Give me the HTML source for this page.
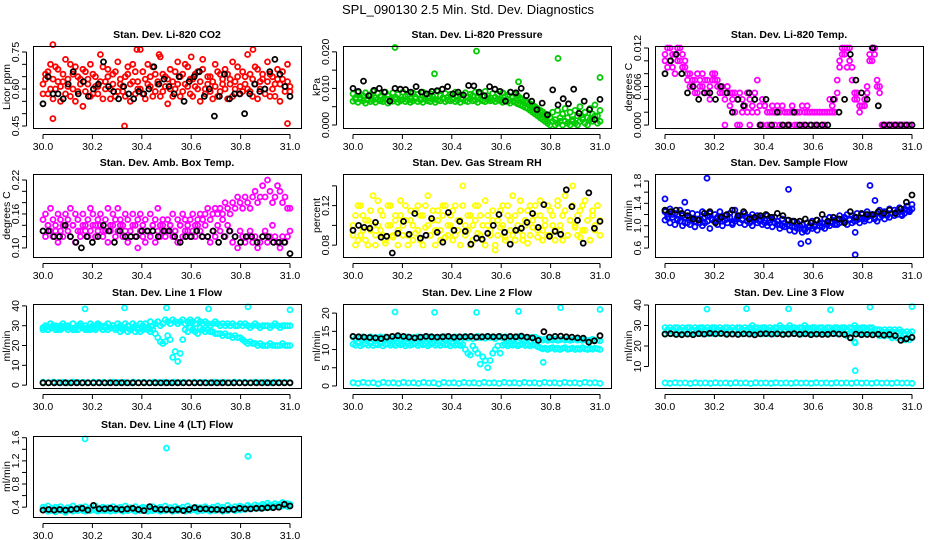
<!DOCTYPE html>
<html><head><meta charset="utf-8"><style>
html,body{margin:0;padding:0;background:#fff;}
svg{display:block;font-family:"Liberation Sans",sans-serif;}
</style></head><body>
<svg id="chart" width="936" height="540" viewBox="0 0 936 540" xmlns="http://www.w3.org/2000/svg">
<text x="468" y="14" font-size="13" text-anchor="middle">SPL_090130  2.5 Min. Std. Dev. Diagnostics</text>
</svg>
<script>
// ---------- data ----------
const xTickVals = [30.0, 30.2, 30.4, 30.6, 30.8, 31.0];
const xTickLabels = ["30.0", "30.2", "30.4", "30.6", "30.8", "31.0"];

const co2Red1 = [0.62,0.66,0.58,0.70,0.64,0.60,0.68,0.55,0.63,0.72,0.61,0.57,0.66,0.69,0.59,0.64,0.53,0.67,0.62,0.70,0.58,0.65,0.61,0.74,0.56,0.63,0.68,0.60,0.66,0.57,0.71,0.62,0.59,0.65,0.69,0.55,0.63,0.67,0.60,0.76,0.58,0.64,0.70,0.61,0.57,0.66,0.62,0.73,0.59,0.65,0.54,0.68,0.63,0.60,0.71,0.57,0.66,0.62,0.69,0.58,0.64,0.61,0.67,0.55,0.72,0.60,0.65,0.59,0.63,0.70,0.57,0.66,0.62,0.68,0.56,0.64,0.71,0.60,0.65,0.58,0.67,0.62,0.74,0.59,0.64,0.69,0.56,0.63,0.66,0.60,0.71,0.57,0.65,0.62,0.68,0.55,0.64,0.61,0.70,0.59];
const co2Red2 = [0.58,0.64,0.67,0.60,0.56,0.69,0.63,0.61,0.66,0.58,0.64,0.70,0.60,0.55,0.65,0.62,0.68,0.59,0.64,0.57,0.66,0.61,0.58,0.63,0.69,0.60,0.65,0.56,0.62,0.67,0.59,0.64,0.61,0.57,0.66,0.62,0.70,0.58,0.63,0.60,0.67,0.56,0.62,0.65,0.69,0.59,0.63,0.57,0.66,0.61,0.64,0.60,0.57,0.67,0.62,0.65,0.59,0.70,0.61,0.64,0.57,0.66,0.60,0.63,0.68,0.58,0.62,0.65,0.56,0.61,0.67,0.59,0.64,0.60,0.66,0.62,0.57,0.63,0.69,0.61,0.59,0.65,0.60,0.66,0.57,0.62,0.68,0.60,0.64,0.58,0.63,0.66,0.60,0.57,0.64,0.62,0.67,0.59,0.63,0.61];
const co2Black = [0.54,0.65,0.58,0.58,0.56,0.62,0.67,0.58,0.63,0.57,0.60,0.62,0.71,0.61,0.59,0.56,0.61,0.58,0.56,0.59,0.58,0.60,0.69,0.62,0.64,0.61,0.58,0.65,0.55,0.63,0.65,0.67,0.57,0.60,0.49,0.57,0.66,0.56,0.58,0.58,0.50,0.58,0.62,0.59,0.60,0.67,0.72,0.66,0.61,0.57];
const co2OutX = [30.04, 30.04, 30.33, 30.99, 30.85, 30.38, 30.47, 30.60];
const co2OutY = [0.78, 0.48, 0.45, 0.46, 0.76, 0.76, 0.74, 0.73];

const presGreen1 = [0.0085,0.0075,0.0090,0.0070,0.0080,0.0088,0.0068,0.0082,0.0092,0.0074,0.0086,0.0078,0.0070,0.0090,0.0080,0.0072,0.0088,0.0076,0.0084,0.0068,0.0090,0.0078,0.0082,0.0072,0.0088,0.0076,0.0084,0.0070,0.0090,0.0080,0.0074,0.0086,0.0078,0.0070,0.0092,0.0080,0.0074,0.0086,0.0076,0.0084,0.0070,0.0090,0.0078,0.0082,0.0072,0.0088,0.0076,0.0084,0.0080,0.0090,0.0074,0.0086,0.0078,0.0092,0.0080,0.0074,0.0086,0.0076,0.0084,0.0070,0.0088,0.0078,0.0082,0.0090,0.0076,0.0084,0.0080,0.0074,0.0070,0.0066,0.0062,0.0058,0.0055,0.0050,0.0045,0.0040,0.0036,0.0030,0.0025,0.0020,0.0035,0.0015,0.0040,0.0010,0.0030,0.0045,0.0020,0.0035,0.0010,0.0040,0.0025,0.0050,0.0015,0.0035,0.0020,0.0045,0.0030,0.0055,0.0025,0.0040];
const presGreen2 = [0.0065,0.0070,0.0062,0.0075,0.0066,0.0060,0.0072,0.0064,0.0068,0.0062,0.0070,0.0066,0.0064,0.0072,0.0060,0.0068,0.0065,0.0070,0.0062,0.0066,0.0070,0.0064,0.0068,0.0062,0.0066,0.0072,0.0064,0.0068,0.0062,0.0070,0.0066,0.0064,0.0070,0.0062,0.0068,0.0066,0.0072,0.0064,0.0068,0.0066,0.0070,0.0064,0.0068,0.0062,0.0070,0.0066,0.0064,0.0072,0.0066,0.0068,0.0062,0.0070,0.0066,0.0064,0.0070,0.0066,0.0068,0.0064,0.0070,0.0066,0.0062,0.0068,0.0064,0.0060,0.0066,0.0062,0.0058,0.0055,0.0052,0.0048,0.0045,0.0040,0.0035,0.0030,0.0025,0.0020,0.0015,0.0010,0.0005,0.0000,0.0010,0.0000,0.0005,0.0020,0.0000,0.0010,0.0005,0.0000,0.0015,0.0005,0.0000,0.0010,0.0020,0.0005,0.0000,0.0015,0.0010,0.0025,0.0005,0.0010];
const presBlack = [0.0100,0.0092,0.0120,0.0080,0.0095,0.0100,0.0090,0.0065,0.0100,0.0098,0.0097,0.0090,0.0105,0.0090,0.0085,0.0092,0.0094,0.0098,0.0105,0.0085,0.0090,0.0082,0.0108,0.0107,0.0090,0.0080,0.0105,0.0098,0.0092,0.0065,0.0090,0.0088,0.0100,0.0080,0.0065,0.0042,0.0060,0.0028,0.0096,0.0055,0.0072,0.0058,0.0098,0.0032,0.0065,0.0042,0.0015,0.0070];
const presOutX = [30.17, 30.50, 30.83, 31.00, 30.33, 30.67];
const presOutY = [0.0212, 0.0202, 0.0182, 0.0130, 0.0140, 0.0118];

const tempMag1 = [0.011,0.012,0.010,0.009,0.011,0.012,0.010,0.011,0.009,0.008,0.006,0.007,0.005,0.008,0.007,0.006,0.005,0.007,0.006,0.008,0.007,0.006,0.005,0.006,0.004,0.006,0.005,0.004,0.005,0.004,0.005,0.004,0.003,0.005,0.004,0.003,0.004,0.007,0.003,0.004,0.003,0.002,0.002,0.003,0.002,0.002,0.002,0.003,0.002,0.002,0.002,0.002,0.002,0.002,0.002,0.003,0.002,0.002,0.002,0.002,0.002,0.002,0.002,0.002,0.002,0.002,0.002,0.003,0.004,0.007,0.009,0.011,0.012,0.012,0.010,0.009,0.005,0.004,0.003,0.003,0.004,0.006,0.010,0.012,0.011,0.006,0.005,0.000,0.000,0.000,0.000,0.000,0.000,0.000,0.000,0.000,0.000,0.000,0.000,0.000];
const tempMag2 = [0.010,0.009,0.012,0.011,0.008,0.010,0.012,0.009,0.010,0.007,0.008,0.006,0.007,0.005,0.006,0.008,0.007,0.005,0.004,0.007,0.008,0.007,0.006,0.005,0.000,0.006,0.003,0.005,0.002,0.000,0.000,0.002,0.003,0.002,0.000,0.002,0.005,0.002,0.000,0.000,0.003,0.000,0.000,0.002,0.000,0.003,0.000,0.000,0.002,0.000,0.000,0.003,0.000,0.000,0.002,0.000,0.000,0.003,0.000,0.002,0.000,0.000,0.002,0.000,0.000,0.002,0.004,0.002,0.002,0.005,0.010,0.012,0.011,0.009,0.012,0.007,0.004,0.005,0.002,0.003,0.003,0.005,0.011,0.010,0.012,0.007,0.006,0.000,0.000,0.000,0.000,0.000,0.000,0.000,0.000,0.000,0.000,0.000,0.000,0.000];
const tempBlack = [0.008,0.010,0.011,0.008,0.005,0.006,0.004,0.005,0.005,0.004,0.006,0.005,0.002,0.004,0.003,0.005,0.004,0.000,0.004,0.000,0.002,0.000,0.000,0.002,0.000,0.000,0.000,0.000,0.000,0.000,0.004,0.002,0.004,0.011,0.007,0.005,0.004,0.012,0.003,0.000,0.000,0.000,0.000,0.000,0.000];

const ambMag1 = [0.15,0.16,0.14,0.17,0.15,0.13,0.16,0.15,0.14,0.16,0.15,0.17,0.14,0.16,0.15,0.13,0.16,0.14,0.15,0.17,0.16,0.14,0.15,0.16,0.13,0.15,0.17,0.14,0.16,0.15,0.17,0.15,0.14,0.16,0.15,0.13,0.16,0.14,0.15,0.16,0.14,0.15,0.13,0.16,0.14,0.15,0.17,0.14,0.15,0.13,0.15,0.14,0.16,0.13,0.15,0.14,0.16,0.15,0.13,0.15,0.16,0.14,0.15,0.16,0.15,0.16,0.17,0.15,0.16,0.17,0.16,0.17,0.16,0.18,0.17,0.16,0.18,0.17,0.19,0.18,0.17,0.19,0.18,0.17,0.19,0.20,0.18,0.19,0.21,0.19,0.22,0.20,0.18,0.19,0.21,0.20,0.18,0.19,0.17,0.17];
const ambMag2 = [0.13,0.12,0.14,0.13,0.12,0.14,0.11,0.13,0.12,0.14,0.13,0.12,0.14,0.11,0.13,0.12,0.14,0.13,0.12,0.13,0.14,0.12,0.13,0.14,0.12,0.13,0.11,0.13,0.14,0.12,0.13,0.14,0.12,0.13,0.11,0.13,0.14,0.12,0.10,0.13,0.12,0.11,0.13,0.12,0.14,0.11,0.13,0.12,0.14,0.12,0.13,0.14,0.12,0.13,0.11,0.14,0.12,0.13,0.14,0.12,0.13,0.12,0.14,0.13,0.12,0.14,0.12,0.11,0.13,0.12,0.14,0.13,0.15,0.12,0.14,0.13,0.11,0.12,0.10,0.13,0.12,0.11,0.12,0.13,0.11,0.12,0.10,0.11,0.12,0.13,0.11,0.12,0.14,0.12,0.11,0.10,0.12,0.11,0.12,0.13];
const ambBlack = [0.13,0.13,0.12,0.12,0.14,0.12,0.11,0.10,0.12,0.11,0.12,0.14,0.13,0.11,0.13,0.12,0.12,0.12,0.13,0.13,0.13,0.12,0.13,0.13,0.12,0.11,0.12,0.12,0.13,0.12,0.12,0.13,0.11,0.12,0.13,0.12,0.11,0.12,0.12,0.11,0.12,0.12,0.11,0.11,0.11,0.09];

const rhYel1 = [0.10,0.08,0.12,0.09,0.11,0.085,0.105,0.095,0.13,0.08,0.10,0.115,0.09,0.082,0.12,0.10,0.088,0.11,0.095,0.125,0.09,0.105,0.08,0.115,0.10,0.092,0.12,0.085,0.11,0.098,0.13,0.09,0.105,0.08,0.115,0.095,0.12,0.088,0.10,0.11,0.085,0.12,0.095,0.105,0.14,0.09,0.11,0.08,0.10,0.12,0.092,0.11,0.085,0.125,0.10,0.09,0.115,0.08,0.105,0.098,0.12,0.088,0.11,0.095,0.13,0.085,0.10,0.115,0.09,0.105,0.082,0.12,0.098,0.11,0.088,0.125,0.095,0.105,0.09,0.115,0.10,0.085,0.12,0.095,0.11,0.13,0.09,0.105,0.14,0.098,0.11,0.088,0.12,0.095,0.105,0.085,0.115,0.10,0.12,0.09];
const rhYel2 = [0.09,0.11,0.085,0.12,0.095,0.105,0.08,0.115,0.10,0.09,0.125,0.095,0.11,0.085,0.10,0.12,0.09,0.105,0.08,0.11,0.10,0.12,0.09,0.105,0.085,0.115,0.095,0.11,0.08,0.12,0.10,0.09,0.115,0.095,0.105,0.085,0.11,0.12,0.09,0.10,0.115,0.09,0.105,0.08,0.12,0.10,0.095,0.11,0.085,0.105,0.12,0.09,0.10,0.08,0.11,0.095,0.105,0.075,0.09,0.115,0.10,0.085,0.12,0.105,0.09,0.11,0.095,0.125,0.085,0.10,0.115,0.09,0.105,0.12,0.095,0.11,0.085,0.10,0.12,0.09,0.11,0.095,0.125,0.10,0.085,0.115,0.09,0.105,0.12,0.10,0.09,0.115,0.095,0.125,0.105,0.085,0.11,0.095,0.12,0.105];
const rhBlack = [0.095,0.100,0.098,0.097,0.103,0.088,0.089,0.072,0.092,0.104,0.091,0.112,0.087,0.090,0.107,0.093,0.083,0.113,0.095,0.104,0.094,0.081,0.087,0.086,0.092,0.100,0.111,0.093,0.081,0.095,0.097,0.103,0.112,0.098,0.121,0.089,0.094,0.091,0.136,0.119,0.105,0.082,0.133,0.097,0.104];

const flowBlue1 = [1.25,1.20,1.30,1.15,1.22,1.10,1.28,1.18,1.05,1.24,1.15,1.22,1.08,1.20,1.12,1.25,1.05,1.18,1.22,1.10,1.20,1.15,1.25,1.08,1.18,1.12,1.22,1.05,1.28,1.15,1.18,1.10,1.22,1.15,1.05,1.20,1.12,1.18,1.08,1.15,1.10,1.18,1.05,1.12,1.15,1.08,1.02,1.12,1.05,1.10,1.00,1.08,0.98,1.05,0.95,1.02,0.92,1.05,0.98,1.08,1.02,1.10,1.05,0.98,1.12,1.05,1.15,1.08,1.02,1.12,1.18,1.10,1.15,1.20,1.12,1.18,1.08,1.22,1.15,1.20,1.12,1.25,1.18,1.20,1.15,1.22,1.28,1.18,1.25,1.20,1.30,1.22,1.28,1.25,1.32,1.20,1.30,1.35,1.28,1.38];
const flowBlue2 = [1.10,1.15,1.05,1.20,1.02,1.12,1.08,1.00,1.15,1.05,1.02,1.10,0.98,1.12,1.05,1.00,1.15,1.08,0.95,1.12,1.08,1.02,1.12,1.00,1.10,1.05,1.15,1.02,1.08,1.12,1.05,1.12,1.02,1.08,1.15,1.00,1.10,1.05,1.12,1.02,1.05,1.00,1.10,0.98,1.05,1.02,0.95,1.00,0.98,1.02,0.92,0.98,0.90,0.95,1.00,0.88,0.95,0.90,1.00,0.95,0.98,0.92,1.00,1.05,0.95,1.02,1.00,1.05,1.10,1.02,1.05,1.12,1.08,1.02,1.10,1.05,1.15,1.10,1.05,1.12,1.08,1.15,1.10,1.18,1.12,1.08,1.15,1.20,1.12,1.18,1.15,1.22,1.18,1.20,1.25,1.18,1.22,1.28,1.25,1.30];
const flowBlack = [1.28,1.25,1.28,1.22,1.18,1.12,1.10,1.22,1.25,1.05,1.15,1.20,1.28,1.18,1.25,1.12,1.15,1.18,1.20,1.15,1.22,1.18,1.10,1.08,1.08,1.12,1.05,1.10,1.20,1.08,1.15,1.12,1.05,1.25,1.15,1.22,1.20,1.20,1.25,1.22,1.28,1.22,1.30,1.42,1.55];
const flowOutX = [30.17, 30.50, 30.83, 30.77, 30.55, 30.58, 30.77, 30.00, 30.08, 30.85];
const flowOutY = [1.85, 1.65, 1.72, 0.48, 0.68, 0.72, 0.88, 1.48, 1.42, 1.45];

const l1Cyan1 = [29,30,28,31,29,30,28,30,31,29,30,29,31,28,30,31,29,30,28,31,30,29,31,30,28,30,31,29,30,29,31,30,29,31,30,28,31,30,29,31,30,31,29,32,30,31,32,30,31,33,32,31,33,32,31,32,33,31,32,33,32,31,33,32,31,32,31,30,31,32,31,30,31,30,31,30,31,30,30,31,30,31,30,29,30,31,30,29,30,30,30,29,30,31,30,29,30,30,30,30];
const l1Cyan2 = [28,29,28,29,30,28,29,28,29,30,28,29,28,29,28,30,29,28,29,28,29,28,30,29,28,29,28,29,30,28,29,27,28,29,27,28,29,27,28,27,28,29,28,27,28,26,24,22,21,22,25,23,14,17,12,16,23,28,27,29,28,27,26,29,28,27,28,27,27,26,26,26,25,26,25,25,24,25,24,24,23,22,21,22,21,21,20,21,20,20,20,21,20,20,20,20,21,20,20,20];
const l1CyanLow = [1.5,1.3,1.6,1.4,1.5,1.2,1.6,1.4,1.5,1.3,1.6,1.4,1.5,1.3,1.6,1.4,1.5,1.2,1.6,1.4,1.5,1.3,1.6,1.4,1.5,1.3,1.6,1.4,1.5,1.3,1.6,1.4,1.5,1.3,1.6,1.4,1.5,1.3,1.6,1.4,1.5,1.3,1.6,1.4,1.5,1.3,1.6,1.4,1.5,1.3];
const l1Black = [1.2,1.1,1.2,1.1,1.2,1.1,1.2,1.1,1.2,1.1,1.2,1.1,1.2,1.1,1.2,1.1,1.2,1.1,1.2,1.1,1.2,1.1,1.2,1.1,1.2,1.1,1.2,1.1,1.2,1.1,1.2,1.1,1.2,1.1,1.2,1.1,1.2,1.1,1.2,1.1,1.2,1.1,1.2,1.1,1.2];
const l1OutX = [30.17, 30.33, 30.50, 30.67, 30.83, 31.00];
const l1OutY = [38.5, 39.0, 39.0, 38.5, 39.5, 38.0];

const l2Cyan1 = [13.5,13.0,13.4,13.1,13.5,13.0,13.2,13.5,13.0,13.3,13.1,13.5,13.0,13.4,13.2,13.0,13.5,13.1,13.3,13.0,13.4,13.2,13.5,13.0,13.3,13.1,13.5,13.0,13.4,13.2,13.0,13.5,13.1,13.3,13.0,13.4,13.2,13.5,13.0,13.3,13.1,13.5,13.0,13.4,13.2,13.6,13.1,13.5,13.0,13.4,13.6,13.2,13.5,13.1,13.6,13.3,13.5,13.0,13.4,13.6,13.2,13.5,13.1,13.4,13.0,13.3,13.5,13.1,13.4,13.2,13.0,13.3,13.1,13.4,13.0,12.8,12.6,12.9,12.5,12.8,12.6,12.9,12.5,12.7,12.9,12.6,12.8,12.5,12.7,12.9,12.6,12.8,12.5,12.7,12.4,12.6,12.8,12.5,12.6,12.4];
const l2Cyan2 = [11.5,11.2,11.8,11.0,11.4,11.6,11.2,11.7,11.1,11.5,11.3,11.7,11.0,11.4,11.6,11.2,11.5,11.1,11.7,11.3,11.5,11.0,11.6,11.2,11.4,11.7,11.1,11.5,11.3,11.6,11.0,11.4,11.7,11.2,11.5,11.1,11.6,11.3,11.4,11.0,11.6,11.2,11.5,11.1,11.4,10.0,9.0,8.5,11.0,10.0,9.0,6.0,8.0,7.0,5.0,7.0,9.0,10.0,11.0,9.0,11.2,11.5,11.0,11.4,11.2,11.5,11.0,11.3,11.5,11.1,11.4,11.0,11.3,11.2,10.8,10.5,10.2,10.4,10.0,10.3,10.5,10.1,10.4,10.0,10.3,10.5,10.1,10.2,10.4,10.0,10.3,10.1,10.5,10.2,10.0,10.3,10.1,10.4,10.2,10.0];
const l2CyanLow = [0.9,0.7,1.0,0.8,0.9,0.6,1.0,0.8,0.9,0.7,1.0,0.8,0.9,0.7,1.0,0.8,0.9,0.6,1.0,0.8,0.9,0.7,1.0,0.8,0.9,0.7,1.0,0.8,0.9,0.7,1.0,0.8,0.9,0.7,1.0,0.8,0.9,0.7,1.0,0.8,0.9,0.7,1.0,0.8,0.9,0.7,1.0,0.8,0.9,0.7];
const l2Black = [13.6,13.5,13.4,13.3,13.2,13.0,13.4,13.6,13.8,13.6,13.4,13.2,13.4,13.6,13.5,13.4,13.5,13.6,13.4,13.5,13.5,13.6,13.4,13.5,13.6,13.5,13.6,13.4,13.6,13.5,13.7,13.4,13.2,12.5,14.9,13.4,13.6,13.7,13.5,13.4,13.2,13.1,12.0,12.4,13.8];
const l2OutX = [30.17, 30.33, 30.50, 30.67, 30.84, 31.00, 30.77];
const l2OutY = [20.3, 20.2, 20.2, 20.5, 21.5, 21.0, 6.5];

const l3Cyan1 = [29,28,29,28,29,29,28,29,28,29,29,28,29,28,29,29,28,29,28,29,29,28,29,28,29,29,28,29,28,29,29,28,29,28,29,30,29,29,28,29,29,28,29,28,29,29,30,29,28,29,30,29,29,28,29,29,30,29,28,29,29,28,29,29,28,29,29,28,29,29,28,29,29,28,29,29,30,29,28,29,29,28,29,29,28,28,28,27,28,27,28,27,28,27,28,27,26,27,26,27];
const l3Cyan2 = [26,27,26,27,26,26,27,26,27,26,26,27,26,27,26,26,27,26,27,26,26,27,26,27,26,26,27,26,27,26,26,27,26,27,26,26,27,26,27,26,26,27,26,27,26,26,27,26,27,26,26,27,26,27,26,26,27,26,27,26,26,27,26,27,26,26,27,26,27,26,26,27,26,25,26,26,22,27,26,26,26,27,26,27,26,26,25,26,25,26,25,24,25,24,25,24,23,24,23,24];
const l3CyanLow = [2.0,1.8,2.1,1.9,2.0,1.7,2.1,1.9,2.0,1.8,2.1,1.9,2.0,1.8,2.1,1.9,2.0,1.7,2.1,1.9,2.0,1.8,2.1,1.9,2.0,1.8,2.1,1.9,2.0,1.8,2.1,1.9,2.0,1.8,2.1,1.9,2.0,1.8,2.1,1.9,2.0,1.8,2.1,1.9,2.0,1.8,2.1,1.9,2.0,1.8];
const l3Black = [25.8,26.0,25.6,25.5,25.8,25.5,26.0,25.8,26.2,25.9,26.1,25.7,25.8,25.6,25.9,25.8,25.4,25.9,26.0,25.8,25.9,25.6,25.8,26.0,25.7,25.9,25.5,25.8,25.6,25.7,26.0,25.8,25.6,24.0,25.8,25.5,25.6,25.4,25.7,25.3,25.6,25.1,22.8,23.5,24.2];
const l3OutX = [30.17, 30.33, 30.50, 30.67, 30.83, 31.00, 30.77, 30.77];
const l3OutY = [38.0, 38.2, 38.1, 37.6, 39.0, 39.2, 8.0, 21.5];

const l4Cyan1 = [0.40,0.36,0.42,0.34,0.38,0.40,0.35,0.41,0.37,0.33,0.39,0.36,0.42,0.35,0.38,0.40,0.34,0.41,0.37,0.39,0.36,0.42,0.35,0.38,0.40,0.34,0.39,0.37,0.41,0.35,0.38,0.40,0.36,0.42,0.34,0.39,0.37,0.41,0.35,0.38,0.40,0.36,0.39,0.34,0.41,0.37,0.38,0.40,0.35,0.42,0.37,0.39,0.35,0.41,0.38,0.36,0.40,0.34,0.42,0.38,0.36,0.40,0.37,0.39,0.35,0.41,0.38,0.36,0.40,0.37,0.42,0.38,0.40,0.36,0.43,0.39,0.37,0.41,0.38,0.42,0.40,0.38,0.43,0.41,0.39,0.44,0.42,0.40,0.45,0.43,0.47,0.44,0.42,0.46,0.43,0.45,0.48,0.44,0.46,0.45];
const l4Cyan2 = [0.35,0.38,0.33,0.37,0.35,0.32,0.37,0.34,0.36,0.31,0.35,0.38,0.33,0.36,0.34,0.37,0.35,0.33,0.36,0.34,0.37,0.35,0.33,0.36,0.34,0.37,0.35,0.33,0.36,0.34,0.37,0.35,0.33,0.36,0.34,0.37,0.35,0.33,0.36,0.34,0.37,0.35,0.33,0.36,0.34,0.37,0.35,0.33,0.36,0.34,0.37,0.35,0.33,0.36,0.34,0.37,0.35,0.33,0.36,0.34,0.37,0.35,0.33,0.36,0.34,0.37,0.35,0.33,0.36,0.34,0.37,0.35,0.33,0.36,0.34,0.37,0.36,0.34,0.37,0.35,0.38,0.36,0.38,0.37,0.39,0.38,0.40,0.38,0.41,0.39,0.42,0.40,0.43,0.41,0.42,0.44,0.42,0.43,0.41,0.42];
const l4Black = [0.35,0.36,0.35,0.36,0.35,0.36,0.37,0.38,0.35,0.43,0.37,0.37,0.38,0.37,0.36,0.37,0.38,0.36,0.34,0.41,0.37,0.36,0.36,0.35,0.36,0.34,0.36,0.39,0.37,0.37,0.36,0.36,0.35,0.36,0.36,0.38,0.37,0.37,0.38,0.38,0.39,0.39,0.40,0.45,0.42];
const l4OutX = [30.17, 30.50, 30.83];
const l4OutY = [1.58, 1.42, 1.28];

// ---------- layout ----------
const colL = [33, 343, 655], colR = [301, 611, 923];
const rowT = [46, 174, 304, 436], rowB = [128, 257, 388, 517];

const svg = document.getElementById('chart');
const NS = 'http://www.w3.org/2000/svg';
function mk(tag, attrs, parent) {
  const e = document.createElementNS(NS, tag);
  for (const k in attrs) e.setAttribute(k, attrs[k]);
  (parent || svg).appendChild(e);
  return e;
}

function drawPanel(p) {
  const L = colL[p.col], R = colR[p.col], T = rowT[p.row], B = rowB[p.row];
  const g = mk('g', {});
  
  
  const xs = v => (L + 10) + (v - 30) * ((R - 11) - (L + 10));
  const ys = v => B - (v - p.ymin) / (p.ymax - p.ymin) * (B - T);
  const pts = mk('g', {}, g);
  
  
  p.series.forEach(s => {
    const n = s.vals.length;
    s.vals.forEach((v, i) => {
      const xv = s.xv ? s.xv[i] : 30 + i / (n - 1);
      const c = mk('circle', {cx: xs(xv).toFixed(1), cy: ys(v).toFixed(1), r: 2.5, fill: 'none', stroke: s.color, 'stroke-width': 1.8}, pts);
      
      
    });
  });
  const box = mk('rect', {x: L + 0.5, y: T + 0.5, width: R - L, height: B - T, fill: 'none', stroke: '#000', 'stroke-width': 1}, g);
  
  
  const xa = mk('g', {}, g);
  
  
  mk('line', {x1: xs(30), x2: xs(31), y1: B + 6.5, y2: B + 6.5, stroke: '#000'}, xa);
  xTickVals.forEach((v, i) => {
    mk('line', {x1: xs(v), x2: xs(v), y1: B + 6.5, y2: B + 11, stroke: '#000'}, xa);
    const t = mk('text', {x: xs(v), y: B + 22, 'font-size': 10.5, 'text-anchor': 'middle'}, xa);
    t.textContent = xTickLabels[i];
    
    
  });
  const ya = mk('g', {}, g);
  
  
  const yt = p.yticks;
  mk('line', {x1: L - 6.5, x2: L - 6.5, y1: ys(yt[0]), y2: ys(yt[yt.length - 1]), stroke: '#000'}, ya);
  yt.forEach(v => {
    mk('line', {x1: L - 6.5, x2: L - 11, y1: ys(v), y2: ys(v), stroke: '#000'}, ya);
  });
  p.ylabels.forEach(v => {
    const yy = ys(v);
    const t = mk('text', {x: L - 14, y: yy, 'font-size': 10.5, 'text-anchor': 'middle', transform: 'rotate(-90 ' + (L - 14) + ' ' + yy + ')'}, ya);
    t.textContent = p.fmt(v);
    
    
  });
  const cy = (T + B) / 2;
  const yt2 = mk('text', {x: L - 23, y: cy, 'font-size': 10.5, 'text-anchor': 'middle', transform: 'rotate(-90 ' + (L - 23) + ' ' + cy + ')'}, g);
  yt2.textContent = p.ytitle;
  
  
  const tt = mk('text', {x: (L + R) / 2, y: T - 8, 'font-size': 10.5, 'font-weight': 'bold', 'text-anchor': 'middle'}, g);
  tt.textContent = p.title;
  
  
}

const f2 = v => v.toFixed(2), f3 = v => v.toFixed(3), f1 = v => v.toFixed(1), f0 = v => v.toFixed(0);
const RED = '#ff0000', GRN = '#00cc00', MAG = '#ff00ff', YEL = '#ffff00', BLU = '#0000ff', CYN = '#00ffff', BLK = '#000';

const panels = [
  {name: 'co2', col: 0, row: 0, ymin: 0.4419, ymax: 0.7743, title: 'Stan. Dev. Li-820 CO2', ytitle: 'Licor ppm',
   yticks: [0.45,0.50,0.55,0.60,0.65,0.70,0.75], ylabels: [0.45,0.60,0.75], fmt: f2,
   series: [{vals: co2Red1, color: RED, label: 'co2-red'}, {vals: co2Red2, color: RED, label: 'co2-red'}, {vals: co2OutY, xv: co2OutX, color: RED, label: 'co2-outlier'}, {vals: co2Black, color: BLK, label: 'co2-black'}]},
  {name: 'pressure', col: 1, row: 0, ymin: -0.00082, ymax: 0.0216, title: 'Stan. Dev. Li-820 Pressure', ytitle: 'kPa',
   yticks: [0,0.005,0.010,0.015,0.020], ylabels: [0,0.010,0.020], fmt: f3,
   series: [{vals: presGreen1, color: GRN, label: 'pressure-green'}, {vals: presGreen2, color: GRN, label: 'pressure-green'}, {vals: presOutY, xv: presOutX, color: GRN, label: 'pressure-outlier'}, {vals: presBlack, color: BLK, label: 'pressure-black'}]},
  {name: 'li820-temp', col: 2, row: 0, ymin: -0.00046, ymax: 0.01231, title: 'Stan. Dev. Li-820 Temp.', ytitle: 'degrees C',
   yticks: [0,0.002,0.004,0.006,0.008,0.010,0.012], ylabels: [0,0.006,0.012], fmt: f3,
   series: [{vals: tempMag1, color: MAG, label: 'temp-magenta'}, {vals: tempMag2, color: MAG, label: 'temp-magenta'}, {vals: tempBlack, color: BLK, label: 'temp-black'}]},
  {name: 'amb-box-temp', col: 0, row: 1, ymin: 0.084, ymax: 0.2306, title: 'Stan. Dev. Amb. Box Temp.', ytitle: 'degrees C',
   yticks: [0.10,0.12,0.14,0.16,0.18,0.20,0.22], ylabels: [0.10,0.16,0.22], fmt: f2,
   series: [{vals: ambMag1, color: MAG, label: 'amb-magenta'}, {vals: ambMag2, color: MAG, label: 'amb-magenta'}, {vals: ambBlack, color: BLK, label: 'amb-black'}]},
  {name: 'gas-stream-rh', col: 1, row: 1, ymin: 0.068, ymax: 0.152, title: 'Stan. Dev. Gas Stream RH', ytitle: 'percent',
   yticks: [0.08,0.10,0.12,0.14], ylabels: [0.08,0.12], fmt: f2,
   series: [{vals: rhYel1, color: YEL, label: 'rh-yellow'}, {vals: rhYel2, color: YEL, label: 'rh-yellow'}, {vals: rhBlack, color: BLK, label: 'rh-black'}]},
  {name: 'sample-flow', col: 2, row: 1, ymin: 0.44, ymax: 1.925, title: 'Stan. Dev. Sample Flow', ytitle: 'ml/min',
   yticks: [0.6,0.8,1.0,1.2,1.4,1.6,1.8], ylabels: [0.6,1.0,1.4,1.8], fmt: f1,
   series: [{vals: flowBlue1, color: BLU, label: 'flow-blue'}, {vals: flowBlue2, color: BLU, label: 'flow-blue'}, {vals: flowOutY, xv: flowOutX, color: BLU, label: 'flow-outlier'}, {vals: flowBlack, color: BLK, label: 'flow-black'}]},
  {name: 'line1-flow', col: 0, row: 2, ymin: -1.45, ymax: 40.96, title: 'Stan. Dev. Line 1 Flow', ytitle: 'ml/min',
   yticks: [0,10,20,30,40], ylabels: [0,10,20,30,40], fmt: f0,
   series: [{vals: l1Cyan1, color: CYN, label: 'line1-cyan'}, {vals: l1Cyan2, color: CYN, label: 'line1-cyan'}, {vals: l1CyanLow, color: CYN, label: 'line1-cyan-low'}, {vals: l1OutY, xv: l1OutX, color: CYN, label: 'line1-outlier'}, {vals: l1Black, color: BLK, label: 'line1-black'}]},
  {name: 'line2-flow', col: 1, row: 2, ymin: -0.56, ymax: 22.5, title: 'Stan. Dev. Line 2 Flow', ytitle: 'ml/min',
   yticks: [0,5,10,15,20], ylabels: [0,5,10,15,20], fmt: f0,
   series: [{vals: l2Cyan1, color: CYN, label: 'line2-cyan'}, {vals: l2Cyan2, color: CYN, label: 'line2-cyan'}, {vals: l2CyanLow, color: CYN, label: 'line2-cyan-low'}, {vals: l2OutY, xv: l2OutX, color: CYN, label: 'line2-outlier'}, {vals: l2Black, color: BLK, label: 'line2-black'}]},
  {name: 'line3-flow', col: 2, row: 2, ymin: -0.5, ymax: 40.5, title: 'Stan. Dev. Line 3 Flow', ytitle: 'ml/min',
   yticks: [10,20,30,40], ylabels: [10,20,30,40], fmt: f0,
   series: [{vals: l3Cyan1, color: CYN, label: 'line3-cyan'}, {vals: l3Cyan2, color: CYN, label: 'line3-cyan'}, {vals: l3CyanLow, color: CYN, label: 'line3-cyan-low'}, {vals: l3OutY, xv: l3OutX, color: CYN, label: 'line3-outlier'}, {vals: l3Black, color: BLK, label: 'line3-black'}]},
  {name: 'line4-flow', col: 0, row: 3, ymin: 0.23, ymax: 1.63, title: 'Stan. Dev. Line 4 (LT) Flow', ytitle: 'ml/min',
   yticks: [0.4,0.6,0.8,1.0,1.2,1.4,1.6], ylabels: [0.4,0.8,1.2,1.6], fmt: f1,
   series: [{vals: l4Cyan1, color: CYN, label: 'line4-cyan'}, {vals: l4Cyan2, color: CYN, label: 'line4-cyan'}, {vals: l4OutY, xv: l4OutX, color: CYN, label: 'line4-outlier'}, {vals: l4Black, color: BLK, label: 'line4-black'}]}
];
panels.forEach(drawPanel);
</script>
</body></html>
